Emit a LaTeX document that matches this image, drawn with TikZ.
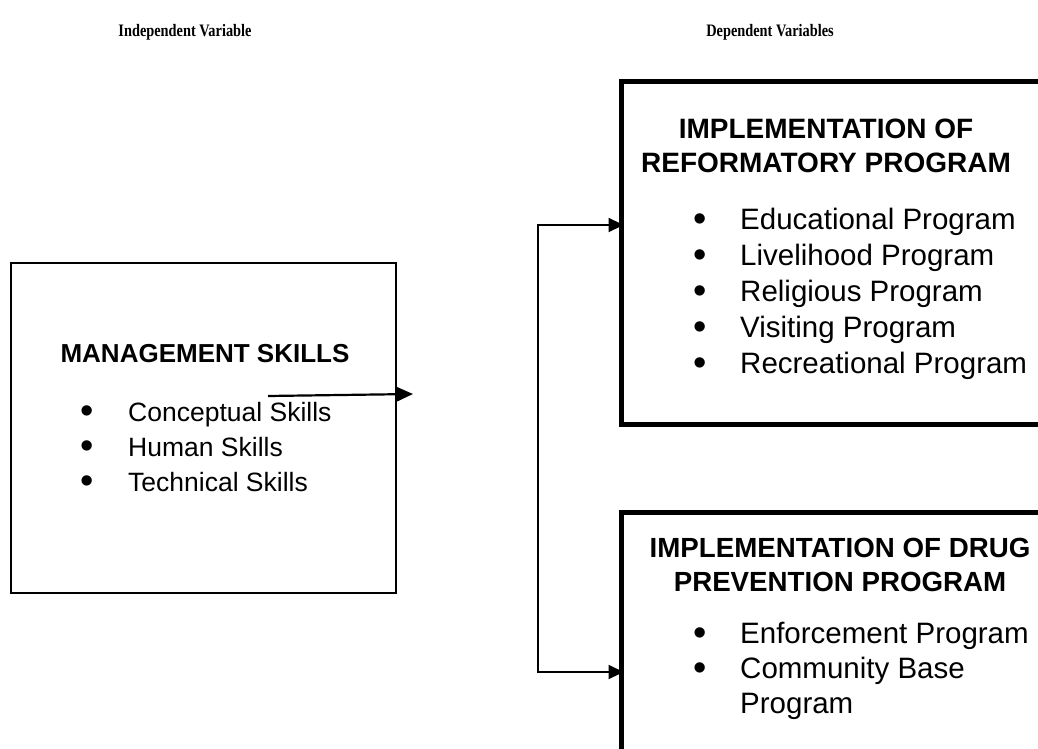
\documentclass[tikz,border=0pt]{standalone}
\usepackage{fontspec}
\setmainfont{Liberation Sans}
\newfontfamily\headfont[FakeStretch=0.82]{Liberation Serif}
\usetikzlibrary{arrows.meta,positioning,calc}

\begin{document}
\begin{tikzpicture}[x=1pt, y=-1pt,
  thinbox/.style={draw, line width=2.6pt, inner sep=0pt},
  thickbox/.style={draw, line width=5pt, inner sep=0pt},
  heading/.style={font=\headfont\bfseries\fontsize{17.5}{20}\selectfont, anchor=base},
  title/.style={font=\bfseries\fontsize{26}{34}\selectfont, anchor=base, align=center, inner sep=0pt},
  item/.style={font=\fontsize{26.5}{35}\selectfont, anchor=base west, align=left, inner sep=0pt},
  ritem/.style={item, font=\fontsize{29.5}{35}\selectfont},
  bul/.style={font=\fontsize{38}{38}\selectfont, anchor=base, inner sep=0pt, yshift=-2.5pt},
  ptr/.style={-{Triangle[length=16pt,width=14pt]}, line width=2.2pt},
  fork/.style={{Triangle[length=15pt,width=14pt]}-{Triangle[length=15pt,width=14pt]}, line width=2.2pt}
]
  \useasboundingbox (0,0) rectangle (1038,749);

  % headings
  \node[heading] (iv) at (185,37) {Independent Variable};
  \node[heading] (dv) at (770,37) {Dependent Variables};

  % boxes
  \node[thinbox, minimum width=385pt, minimum height=330pt] (mgmt) at (203.5,428) {};
  \node[thickbox, minimum width=439pt, minimum height=342pt] (reform) at (840.5,253) {};
  \node[thickbox, minimum width=439pt, minimum height=288pt] (drug) at (840.5,656) {};

  % independent variable
  \node[title] (mt) at (205,362) {MANAGEMENT SKILLS};
  \foreach \txt [count=\i from 0] in {Conceptual Skills, Human Skills, Technical Skills} {
    \node[bul] (mb\i) at (87,421+35*\i) {•};
    \node[item] (mi\i) at (128,421+35*\i) {\txt};
  }

  % dependent variables (base anchor sits on the last line)
  \node[title, font=\bfseries\fontsize{28}{34}\selectfont] (rt) at (826,172)
    {IMPLEMENTATION OF\\REFORMATORY PROGRAM};
  \foreach \txt [count=\i from 0] in {Educational Program, Livelihood Program,
      Religious Program, Visiting Program, Recreational Program} {
    \node[bul] (rb\i) at (700,229+36*\i) {•};
    \node[ritem] (ri\i) at (740,229+36*\i) {\txt};
  }

  \node[title, font=\bfseries\fontsize{27.7}{34}\selectfont] (dt) at (840,591)
    {IMPLEMENTATION OF DRUG\\PREVENTION PROGRAM};
  \node[bul] (db0) at (700,643) {•};
  \node[ritem] (di0) at (740,643) {Enforcement Program};
  \node[bul] (db1) at (700,678) {•};
  \node[ritem] (di1) at (740,713) {Community Base\\Program};

  % connectors
  \coordinate (a0) at (268,396);
  \coordinate (a1) at (413,394);
  \draw[ptr] (a0) -- (a1);

  \coordinate (fk) at (538,225);
  \coordinate (fb) at (538,672);
  \draw[fork, shorten <=-5pt, shorten >=-5pt]
    (fk -| reform.west) -- (fk) -- (fb) -- (fb -| drug.west);
\end{tikzpicture}
\end{document}
